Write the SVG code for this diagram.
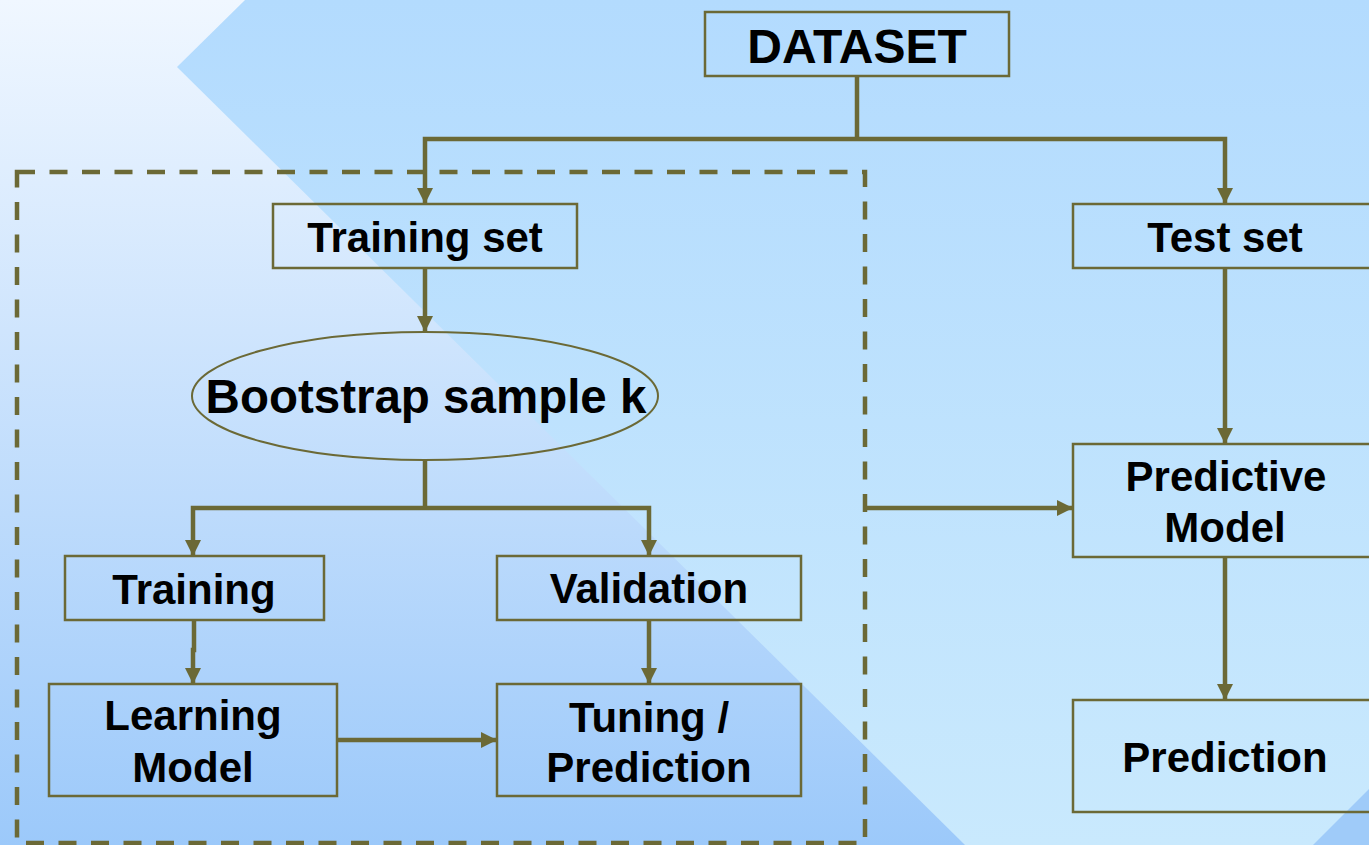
<svg xmlns="http://www.w3.org/2000/svg" width="1369" height="845" viewBox="0 0 1369 845">
<defs>
<linearGradient id="bgL" x1="0" y1="0" x2="0" y2="1">
<stop offset="0" stop-color="#f0f7ff"/>
<stop offset="1" stop-color="#9cc9fa"/>
</linearGradient>
<linearGradient id="bgR" x1="0" y1="0" x2="0" y2="1">
<stop offset="0" stop-color="#b3dbfe"/>
<stop offset="1" stop-color="#c9e9fd"/>
</linearGradient>
<marker id="ah" viewBox="0 0 16 16" refX="15" refY="8" markerWidth="16" markerHeight="17" markerUnits="userSpaceOnUse" orient="auto">
<path d="M0,0 L16,8 L0,16 Z" fill="#6b6936"/>
</marker>
<style>
.box{fill:none;stroke:#6b6936;stroke-width:2.5}
.lbl{font-family:"Liberation Sans",Arial,sans-serif;font-weight:bold;font-size:42px;fill:#000;text-anchor:middle}
.con{fill:none;stroke:#6b6936;stroke-width:4.5}
.arr{fill:none;stroke:#6b6936;stroke-width:4.5;marker-end:url(#ah)}
.dash{fill:none;stroke:#6b6936;stroke-width:4.5;stroke-dasharray:18 14.5}
</style>
</defs>
<g id="background">
<rect x="0" y="0" width="1369" height="845" fill="url(#bgL)"/>
<polygon points="245,0 1369,0 1369,845 965,845 177,67" fill="url(#bgR)"/>
<polygon points="1313,845 1369,789 1369,845" fill="#9fcbf9"/>
</g>
<g id="group-boundary">
<rect class="dash" x="17" y="172" width="848" height="671"/>
</g>
<g id="connectors">
<path class="con" d="M857,76 V139"/>
<path class="arr" d="M857,139 H425 V203"/>
<path class="arr" d="M857,139 H1225 V203"/>
<path class="arr" d="M425,268 V331"/>
<path class="con" d="M425,460 V508"/>
<path class="arr" d="M425,508 H193 V555"/>
<path class="arr" d="M425,508 H649 V555"/>
<path class="arr" d="M194,620 V650 H193 V683"/>
<path class="arr" d="M649,620 V683"/>
<path class="arr" d="M337,740 H496"/>
<path class="arr" d="M865,508 H1072"/>
<path class="arr" d="M1225,268 V443"/>
<path class="arr" d="M1225,557 V699"/>
</g>
<g id="dataset">
<rect class="box" x="705" y="12" width="304" height="64"/>
<text class="lbl" x="857" y="63" style="font-size:48px">DATASET</text>
</g>
<g id="training-set">
<rect class="box" x="273" y="204" width="304" height="64"/>
<text class="lbl" x="425" y="252">Training set</text>
</g>
<g id="test-set">
<rect class="box" x="1073" y="204" width="310" height="64"/>
<text class="lbl" x="1225" y="252">Test set</text>
</g>
<g id="bootstrap">
<ellipse cx="425" cy="396" rx="233" ry="64" fill="none" stroke="#6b6936" stroke-width="2"/>
<text class="lbl" x="426" y="413" style="font-size:47.5px">Bootstrap sample k</text>
</g>
<g id="training">
<rect class="box" x="65" y="556" width="259" height="64"/>
<text class="lbl" x="194" y="604">Training</text>
</g>
<g id="validation">
<rect class="box" x="497" y="556" width="304" height="64"/>
<text class="lbl" x="649" y="603">Validation</text>
</g>
<g id="learning-model">
<rect class="box" x="49" y="684" width="288" height="112"/>
<text class="lbl" x="193" y="730">Learning</text>
<text class="lbl" x="193" y="782">Model</text>
</g>
<g id="tuning-prediction">
<rect class="box" x="497" y="684" width="304" height="112"/>
<text class="lbl" x="649" y="732">Tuning /</text>
<text class="lbl" x="649" y="782">Prediction</text>
</g>
<g id="predictive-model">
<rect class="box" x="1073" y="444" width="310" height="113"/>
<text class="lbl" x="1226" y="491">Predictive</text>
<text class="lbl" x="1225" y="542">Model</text>
</g>
<g id="prediction">
<rect class="box" x="1073" y="700" width="310" height="112"/>
<text class="lbl" x="1225" y="772">Prediction</text>
</g>
</svg>
